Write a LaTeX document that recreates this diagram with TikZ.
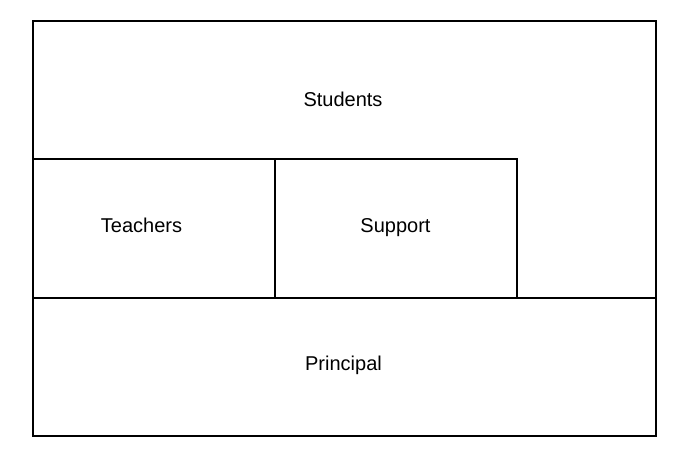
\documentclass[tikz,border=0pt]{standalone}
\usepackage{fontspec}
\setmainfont{Liberation Sans}
\usetikzlibrary{positioning}

\begin{document}
\begin{tikzpicture}[x=1pt, y=-1pt, line width=1.8pt,
    box/.style = {draw, rectangle, inner sep=0pt, anchor=north west},
    txt/.style = {anchor=base, inner sep=0pt, font=\fontsize{20}{24}\selectfont}]
    \useasboundingbox (0,0) rectangle (685,456);

    % Boxes
    \node[box, minimum width=623pt, minimum height=415pt] (students) at (32, 20) {};
    \node[box, minimum width=242pt, minimum height=139pt] (teachers) at (32, 158) {};
    \node[box, minimum width=242pt, minimum height=139pt] (support) at (274, 158) {};
    \node[box, minimum width=623pt, minimum height=138pt] (principal) at (32, 297) {};

    % Labels
    \node[txt] (lstudents) at (343, 106) {Students};
    \node[txt] (lteachers) at (141.5, 232) {Teachers};
    \node[txt] (lsupport) at (395.5, 232) {Support};
    \node[txt] (lprincipal) at (343.5, 370) {Principal};

\end{tikzpicture}
\end{document}
